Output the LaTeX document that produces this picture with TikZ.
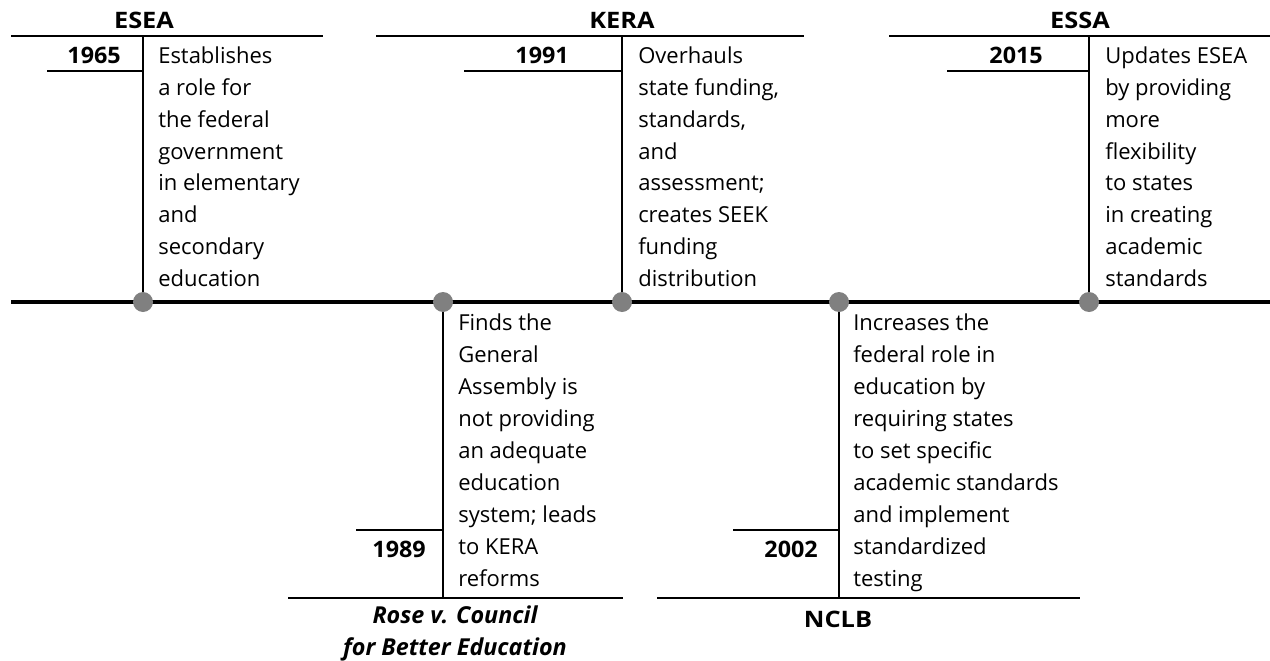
\documentclass[tikz,border=0pt]{standalone}
\usepackage{fontspec}
\setmainfont{Open Sans}
\newfontfamily\titlefont{Open Sans}[FakeStretch=1.12]
\newfontfamily\yearfont{Open Sans}[FakeStretch=1.03]
\definecolor{dotgray}{HTML}{808080}
\begin{document}
\begin{tikzpicture}[x=0.75pt,y=-0.75pt,
  rule/.style={line width=1.5pt},
  axis/.style={line width=3pt},
  dot/.style={circle, fill=dotgray, inner sep=0pt, minimum size=15pt},
  body/.style={anchor=base west, inner sep=0pt, font=\fontsize{16.5}{23.9}\selectfont},
  year/.style={anchor=base east, inner sep=0pt, font=\yearfont\fontsize{17}{20}\selectfont\bfseries},
  ttl/.style={anchor=base, inner sep=0pt, font=\titlefont\fontsize{17}{20}\selectfont\bfseries},
  ittl/.style={anchor=base, inner sep=0pt, font=\fontsize{17.5}{20}\selectfont\bfseries\itshape}]
\useasboundingbox (0,0) rectangle (1270,660);

% main axis
\coordinate (axL) at (11,302);
\coordinate (axR) at (1270,302);
\draw[axis] (axL) -- (axR);

% ---- ESEA 1965
\coordinate (p1) at (143,302);
\coordinate (v1) at (143,36);
\coordinate (tl1) at (11,36);
\coordinate (tr1) at (323,36);
\coordinate (yl1) at (47,71.3);
\coordinate (yr1) at (143,71.3);
\draw[rule] (tl1) -- (tr1);
\draw[rule] (v1) -- (p1);
\draw[rule] (yl1) -- (yr1);
\node[ttl] (ttl1) at (144,28.3) {ESEA};
\node[year] (yr1t) at (121,64) {1965};
\node[body] (txt1) at (158,63.5) {\parbox[t]{250pt}{\raggedright Establishes\\a role for\\the federal\\government\\in elementary\\and\\secondary\\education}};

% ---- KERA 1991
\coordinate (p2) at (622,302);
\coordinate (v2) at (622,36);
\coordinate (tl2) at (376,36);
\coordinate (tr2) at (804,36);
\coordinate (yl2) at (464,71.3);
\coordinate (yr2) at (622,71.3);
\draw[rule] (tl2) -- (tr2);
\draw[rule] (v2) -- (p2);
\draw[rule] (yl2) -- (yr2);
\node[ttl] (ttl2) at (622,28.3) {KERA};
\node[year] (yr2t) at (569,64) {1991};
\node[body] (txt2) at (638,63.5) {\parbox[t]{250pt}{\raggedright Overhauls\\state funding,\\standards,\\and\\assessment;\\creates SEEK\\funding\\distribution}};

% ---- ESSA 2015
\coordinate (p3) at (1089,302);
\coordinate (v3) at (1089,36);
\coordinate (tl3) at (889,36);
\coordinate (tr3) at (1270,36);
\coordinate (yl3) at (947,71.3);
\coordinate (yr3) at (1089,71.3);
\draw[rule] (tl3) -- (tr3);
\draw[rule] (v3) -- (p3);
\draw[rule] (yl3) -- (yr3);
\node[ttl] (ttl3) at (1080,28.3) {ESSA};
\node[year] (yr3t) at (1043,64) {2015};
\node[body] (txt3) at (1105,63.5) {\parbox[t]{250pt}{\raggedright Updates ESEA\\by providing\\more\\flexibility\\to states\\in creating\\academic\\standards}};

% ---- Rose 1989
\coordinate (p4) at (443,302);
\coordinate (v4) at (443,598);
\coordinate (bl4) at (288,598);
\coordinate (br4) at (623,598);
\coordinate (yl4) at (356,529.5);
\coordinate (yr4) at (443,529.5);
\draw[rule] (bl4) -- (br4);
\draw[rule] (p4) -- (v4);
\draw[rule] (yl4) -- (yr4);
\node[year] (yr4t) at (426,557.5) {1989};
\node[body] (txt4) at (458,330) {\parbox[t]{250pt}{\fontsize{16.5}{24}\selectfont\raggedright Finds the\\General\\Assembly is\\not providing\\an adequate\\education\\system; leads\\to KERA\\reforms}};
\node[ittl] (ttl4a) at (455,623) {Rose v. Council};
\node[ittl] (ttl4b) at (455,655) {for Better Education};

% ---- NCLB 2002
\coordinate (p5) at (839,302);
\coordinate (v5) at (839,598);
\coordinate (bl5) at (657,598);
\coordinate (br5) at (1080,598);
\coordinate (yl5) at (733,530);
\coordinate (yr5) at (839,530);
\draw[rule] (bl5) -- (br5);
\draw[rule] (p5) -- (v5);
\draw[rule] (yl5) -- (yr5);
\node[year] (yr5t) at (818,557) {2002};
\node[body] (txt5) at (853,330) {\parbox[t]{250pt}{\fontsize{16.5}{24}\selectfont\raggedright Increases the\\federal role in\\education by\\requiring states\\to set specific\\academic standards\\and implement\\standardized\\testing}};
\node[ttl] (ttl5) at (838,627) {NCLB};

% dots
\node[dot] (d1) at (p1) {};
\node[dot] (d2) at (p2) {};
\node[dot] (d3) at (p3) {};
\node[dot] (d4) at (p4) {};
\node[dot] (d5) at (p5) {};
\end{tikzpicture}
\end{document}
